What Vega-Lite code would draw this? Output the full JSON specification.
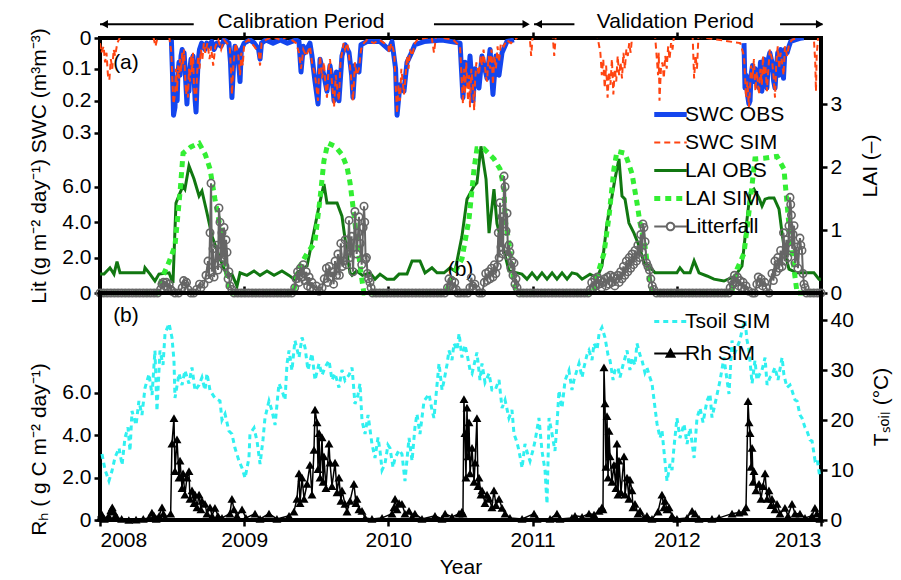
{
"$schema": "https://vega.github.io/schema/vega-lite/v6.json",
"padding": {"left": 26, "top": 9, "right": 2, "bottom": 10},
"config": {
 "font": "Liberation Sans",
 "view": {"stroke": "black", "strokeWidth": 4},
 "axis": {"domain": false, "grid": false, "tickColor": "black", "tickWidth": 2.5, "tickSize": 6, "labelFontSize": 21, "labelColor": "black", "labelFont": "Liberation Sans", "titleFont": "Liberation Sans", "titleFontSize": 21, "titleFontWeight": "normal", "titleColor": "black", "labelPadding": 3},
 "legend": {"labelFontSize": 21, "labelFont": "Liberation Sans", "labelColor": "black", "padding": 0, "rowPadding": 3, "symbolSize": 625, "labelOffset": 4}
},
"resolve": {"scale": {"color": "independent"}},
"datasets": {
 "swcO": [
{"g":1,"t":2008.495,"v":0.01},{"g":1,"t":2008.503,"v":0.12},{"g":1,"t":2008.51,"v":0.245},{"g":1,"t":2008.52,"v":0.22},{"g":1,"t":2008.527,"v":0.14},{"g":1,"t":2008.535,"v":0.2},{"g":1,"t":2008.54,"v":0.12},{"g":1,"t":2008.548,"v":0.08},{"g":1,"t":2008.555,"v":0.12},{"g":1,"t":2008.562,"v":0.06},{"g":1,"t":2008.57,"v":0.04},{"g":1,"t":2008.576,"v":0.07},{"g":1,"t":2008.583,"v":0.05},{"g":1,"t":2008.59,"v":0.1},{"g":1,"t":2008.597,"v":0.16},{"g":1,"t":2008.603,"v":0.21},{"g":1,"t":2008.61,"v":0.14},{"g":1,"t":2008.617,"v":0.17},{"g":1,"t":2008.624,"v":0.1},{"g":1,"t":2008.631,"v":0.07},{"g":1,"t":2008.638,"v":0.09},{"g":1,"t":2008.645,"v":0.06},{"g":1,"t":2008.652,"v":0.12},{"g":1,"t":2008.66,"v":0.2},{"g":1,"t":2008.666,"v":0.235},{"g":1,"t":2008.673,"v":0.15},{"g":1,"t":2008.68,"v":0.08},{"g":1,"t":2008.69,"v":0.04},{"g":1,"t":2008.705,"v":0.02},{"g":1,"t":2008.728,"v":0.04},{"g":1,"t":2008.74,"v":0.02},{"g":1,"t":2008.756,"v":0.03},{"g":1,"t":2008.775,"v":0.015},{"g":1,"t":2008.791,"v":0.04},{"g":1,"t":2008.811,"v":0.02},{"g":1,"t":2008.84,"v":0.03},{"g":1,"t":2008.86,"v":0.01},{"g":1,"t":2008.894,"v":0.02},{"g":1,"t":2008.905,"v":0.08},{"g":1,"t":2008.915,"v":0.19},{"g":1,"t":2008.925,"v":0.1},{"g":1,"t":2008.936,"v":0.03},{"g":1,"t":2008.957,"v":0.05},{"g":1,"t":2008.971,"v":0.14},{"g":1,"t":2008.98,"v":0.04},{"g":1,"t":2009.0,"v":0.02},{"g":1,"t":2009.04,"v":0.01},{"g":1,"t":2009.07,"v":0.02},{"g":1,"t":2009.1,"v":0.04},{"g":1,"t":2009.11,"v":0.07},{"g":1,"t":2009.12,"v":0.02},{"g":1,"t":2009.15,"v":0.01},{"g":1,"t":2009.2,"v":0.02},{"g":1,"t":2009.25,"v":0.01},{"g":1,"t":2009.3,"v":0.02},{"g":1,"t":2009.36,"v":0.01},{"g":1,"t":2009.38,"v":0.015},{"g":1,"t":2009.394,"v":0.11},{"g":1,"t":2009.41,"v":0.03},{"g":1,"t":2009.422,"v":0.05},{"g":1,"t":2009.456,"v":0.02},{"g":1,"t":2009.47,"v":0.06},{"g":1,"t":2009.491,"v":0.14},{"g":1,"t":2009.512,"v":0.21},{"g":1,"t":2009.526,"v":0.07},{"g":1,"t":2009.54,"v":0.1},{"g":1,"t":2009.553,"v":0.12},{"g":1,"t":2009.574,"v":0.17},{"g":1,"t":2009.595,"v":0.09},{"g":1,"t":2009.612,"v":0.14},{"g":1,"t":2009.623,"v":0.2},{"g":1,"t":2009.64,"v":0.11},{"g":1,"t":2009.657,"v":0.2},{"g":1,"t":2009.678,"v":0.06},{"g":1,"t":2009.699,"v":0.025},{"g":1,"t":2009.727,"v":0.05},{"g":1,"t":2009.745,"v":0.12},{"g":1,"t":2009.754,"v":0.19},{"g":1,"t":2009.768,"v":0.09},{"g":1,"t":2009.796,"v":0.11},{"g":1,"t":2009.81,"v":0.025},{"g":1,"t":2009.852,"v":0.015},{"g":1,"t":2009.942,"v":0.015},{"g":1,"t":2010.004,"v":0.04},{"g":1,"t":2010.025,"v":0.015},{"g":1,"t":2010.05,"v":0.1},{"g":1,"t":2010.06,"v":0.245},{"g":1,"t":2010.08,"v":0.15},{"g":1,"t":2010.108,"v":0.17},{"g":1,"t":2010.129,"v":0.08},{"g":1,"t":2010.15,"v":0.06},{"g":1,"t":2010.184,"v":0.025},{"g":1,"t":2010.247,"v":0.015},{"g":1,"t":2010.372,"v":0.01},{"g":1,"t":2010.497,"v":0.02},{"g":1,"t":2010.517,"v":0.19},{"g":1,"t":2010.531,"v":0.08},{"g":1,"t":2010.552,"v":0.15},{"g":1,"t":2010.566,"v":0.06},{"g":1,"t":2010.587,"v":0.2},{"g":1,"t":2010.601,"v":0.1},{"g":1,"t":2010.628,"v":0.16},{"g":1,"t":2010.649,"v":0.06},{"g":1,"t":2010.684,"v":0.13},{"g":1,"t":2010.705,"v":0.04},{"g":1,"t":2010.725,"v":0.18},{"g":1,"t":2010.746,"v":0.06},{"g":1,"t":2010.767,"v":0.12},{"g":1,"t":2010.788,"v":0.05},{"g":1,"t":2010.822,"v":0.015},{"g":1,"t":2010.871,"v":0.01},
{"g":2,"t":2012.466,"v":0.02},{"g":2,"t":2012.473,"v":0.16},{"g":2,"t":2012.48,"v":0.12},{"g":2,"t":2012.49,"v":0.18},{"g":2,"t":2012.5,"v":0.21},{"g":2,"t":2012.508,"v":0.2},{"g":2,"t":2012.515,"v":0.12},{"g":2,"t":2012.525,"v":0.09},{"g":2,"t":2012.535,"v":0.14},{"g":2,"t":2012.545,"v":0.1},{"g":2,"t":2012.555,"v":0.15},{"g":2,"t":2012.57,"v":0.16},{"g":2,"t":2012.58,"v":0.08},{"g":2,"t":2012.59,"v":0.17},{"g":2,"t":2012.598,"v":0.1},{"g":2,"t":2012.605,"v":0.07},{"g":2,"t":2012.615,"v":0.12},{"g":2,"t":2012.625,"v":0.16},{"g":2,"t":2012.635,"v":0.07},{"g":2,"t":2012.645,"v":0.05},{"g":2,"t":2012.66,"v":0.08},{"g":2,"t":2012.672,"v":0.14},{"g":2,"t":2012.681,"v":0.16},{"g":2,"t":2012.69,"v":0.1},{"g":2,"t":2012.7,"v":0.05},{"g":2,"t":2012.71,"v":0.12},{"g":2,"t":2012.72,"v":0.04},{"g":2,"t":2012.73,"v":0.06},{"g":2,"t":2012.74,"v":0.13},{"g":2,"t":2012.75,"v":0.04},{"g":2,"t":2012.765,"v":0.05},{"g":2,"t":2012.778,"v":0.03},{"g":2,"t":2012.79,"v":0.015},{"g":2,"t":2012.82,"v":0.01},{"g":2,"t":2012.854,"v":0.005},{"g":2,"t":2012.88,"v":0.003}
 ],
 "swcS": [
{"t":2008.0,"v":0.02},{"t":2008.01,"v":0.05},{"t":2008.025,"v":0.03},{"t":2008.035,"v":0.08},{"t":2008.045,"v":0.05},{"t":2008.055,"v":0.12},{"t":2008.065,"v":0.135},{"t":2008.075,"v":0.07},{"t":2008.085,"v":0.1},{"t":2008.095,"v":0.04},{"t":2008.105,"v":0.06},{"t":2008.12,"v":0.02},{"t":2008.14,"v":0.0},{"t":2008.37,"v":0.0},{"t":2008.385,"v":0.03},{"t":2008.4,"v":0.0},{"t":2008.48,"v":0.0},{"t":2008.495,"v":0.05},{"t":2008.503,"v":0.15},{"t":2008.51,"v":0.21},{"t":2008.52,"v":0.18},{"t":2008.527,"v":0.1},{"t":2008.535,"v":0.17},{"t":2008.54,"v":0.09},{"t":2008.548,"v":0.13},{"t":2008.555,"v":0.07},{"t":2008.562,"v":0.11},{"t":2008.57,"v":0.05},{"t":2008.576,"v":0.09},{"t":2008.583,"v":0.04},{"t":2008.59,"v":0.12},{"t":2008.597,"v":0.18},{"t":2008.603,"v":0.15},{"t":2008.61,"v":0.19},{"t":2008.617,"v":0.1},{"t":2008.624,"v":0.14},{"t":2008.631,"v":0.06},{"t":2008.638,"v":0.11},{"t":2008.645,"v":0.05},{"t":2008.652,"v":0.16},{"t":2008.66,"v":0.19},{"t":2008.666,"v":0.2},{"t":2008.673,"v":0.12},{"t":2008.68,"v":0.06},{"t":2008.69,"v":0.1},{"t":2008.7,"v":0.04},{"t":2008.71,"v":0.07},{"t":2008.72,"v":0.02},{"t":2008.73,"v":0.05},{"t":2008.745,"v":0.02},{"t":2008.76,"v":0.07},{"t":2008.77,"v":0.03},{"t":2008.785,"v":0.09},{"t":2008.8,"v":0.03},{"t":2008.82,"v":0.01},{"t":2008.84,"v":0.04},{"t":2008.86,"v":0.01},{"t":2008.9,"v":0.03},{"t":2008.91,"v":0.12},{"t":2008.915,"v":0.18},{"t":2008.925,"v":0.09},{"t":2008.94,"v":0.02},{"t":2008.96,"v":0.06},{"t":2008.971,"v":0.12},{"t":2008.98,"v":0.05},{"t":2008.99,"v":0.09},{"t":2009.0,"v":0.02},{"t":2009.03,"v":0.01},{"t":2009.07,"v":0.03},{"t":2009.1,"v":0.05},{"t":2009.11,"v":0.09},{"t":2009.12,"v":0.02},{"t":2009.15,"v":0.01},{"t":2009.2,"v":0.0},{"t":2009.25,"v":0.01},{"t":2009.3,"v":0.0},{"t":2009.36,"v":0.02},{"t":2009.38,"v":0.05},{"t":2009.394,"v":0.1},{"t":2009.41,"v":0.04},{"t":2009.43,"v":0.06},{"t":2009.456,"v":0.03},{"t":2009.47,"v":0.08},{"t":2009.491,"v":0.12},{"t":2009.512,"v":0.2},{"t":2009.52,"v":0.1},{"t":2009.526,"v":0.06},{"t":2009.54,"v":0.13},{"t":2009.553,"v":0.08},{"t":2009.565,"v":0.16},{"t":2009.574,"v":0.19},{"t":2009.585,"v":0.1},{"t":2009.595,"v":0.07},{"t":2009.61,"v":0.15},{"t":2009.623,"v":0.22},{"t":2009.635,"v":0.12},{"t":2009.65,"v":0.18},{"t":2009.657,"v":0.2},{"t":2009.668,"v":0.08},{"t":2009.678,"v":0.05},{"t":2009.69,"v":0.02},{"t":2009.7,"v":0.04},{"t":2009.715,"v":0.02},{"t":2009.727,"v":0.06},{"t":2009.74,"v":0.12},{"t":2009.754,"v":0.2},{"t":2009.76,"v":0.15},{"t":2009.768,"v":0.08},{"t":2009.78,"v":0.12},{"t":2009.796,"v":0.1},{"t":2009.81,"v":0.04},{"t":2009.83,"v":0.02},{"t":2009.852,"v":0.01},{"t":2009.9,"v":0.02},{"t":2009.94,"v":0.01},{"t":2010.0,"v":0.03},{"t":2010.004,"v":0.05},{"t":2010.02,"v":0.02},{"t":2010.04,"v":0.05},{"t":2010.06,"v":0.24},{"t":2010.07,"v":0.15},{"t":2010.08,"v":0.2},{"t":2010.09,"v":0.1},{"t":2010.108,"v":0.18},{"t":2010.12,"v":0.12},{"t":2010.129,"v":0.06},{"t":2010.14,"v":0.1},{"t":2010.15,"v":0.04},{"t":2010.165,"v":0.06},{"t":2010.184,"v":0.02},{"t":2010.2,"v":0.01},{"t":2010.3,"v":0.0},{"t":2010.316,"v":0.05},{"t":2010.33,"v":0.0},{"t":2010.45,"v":0.01},{"t":2010.497,"v":0.03},{"t":2010.51,"v":0.15},{"t":2010.517,"v":0.21},{"t":2010.525,"v":0.1},{"t":2010.531,"v":0.18},{"t":2010.54,"v":0.08},{"t":2010.552,"v":0.2},{"t":2010.56,"v":0.12},{"t":2010.566,"v":0.22},{"t":2010.575,"v":0.1},{"t":2010.587,"v":0.16},{"t":2010.595,"v":0.23},{"t":2010.601,"v":0.14},{"t":2010.61,"v":0.08},{"t":2010.628,"v":0.12},{"t":2010.64,"v":0.06},{"t":2010.649,"v":0.09},{"t":2010.66,"v":0.04},{"t":2010.675,"v":0.12},{"t":2010.684,"v":0.14},{"t":2010.695,"v":0.06},{"t":2010.705,"v":0.1},{"t":2010.715,"v":0.04},{"t":2010.725,"v":0.15},{"t":2010.735,"v":0.06},{"t":2010.746,"v":0.1},{"t":2010.757,"v":0.03},{"t":2010.767,"v":0.08},{"t":2010.78,"v":0.02},{"t":2010.8,"v":0.03},{"t":2010.82,"v":0.01},{"t":2010.85,"v":0.02},{"t":2010.9,"v":0.0},{"t":2010.98,"v":0.0},{"t":2010.99,"v":0.06},{"t":2011.0,"v":0.0},{"t":2011.14,"v":0.0},{"t":2011.15,"v":0.06},{"t":2011.16,"v":0.0},{"t":2011.45,"v":0.0},{"t":2011.47,"v":0.05},{"t":2011.48,"v":0.12},{"t":2011.49,"v":0.07},{"t":2011.5,"v":0.16},{"t":2011.51,"v":0.09},{"t":2011.52,"v":0.19},{"t":2011.53,"v":0.11},{"t":2011.54,"v":0.15},{"t":2011.55,"v":0.07},{"t":2011.56,"v":0.18},{"t":2011.57,"v":0.1},{"t":2011.58,"v":0.14},{"t":2011.59,"v":0.06},{"t":2011.6,"v":0.12},{"t":2011.61,"v":0.08},{"t":2011.62,"v":0.13},{"t":2011.63,"v":0.05},{"t":2011.64,"v":0.1},{"t":2011.65,"v":0.04},{"t":2011.66,"v":0.06},{"t":2011.67,"v":0.02},{"t":2011.68,"v":0.05},{"t":2011.69,"v":0.0},{"t":2011.85,"v":0.0},{"t":2011.86,"v":0.06},{"t":2011.87,"v":0.12},{"t":2011.875,"v":0.05},{"t":2011.88,"v":0.2},{"t":2011.89,"v":0.1},{"t":2011.9,"v":0.08},{"t":2011.91,"v":0.13},{"t":2011.92,"v":0.06},{"t":2011.93,"v":0.1},{"t":2011.94,"v":0.03},{"t":2011.95,"v":0.07},{"t":2011.96,"v":0.02},{"t":2011.97,"v":0.04},{"t":2011.98,"v":0.0},{"t":2012.11,"v":0.0},{"t":2012.12,"v":0.13},{"t":2012.13,"v":0.06},{"t":2012.14,"v":0.1},{"t":2012.15,"v":0.0},{"t":2012.44,"v":0.02},{"t":2012.466,"v":0.06},{"t":2012.473,"v":0.12},{"t":2012.48,"v":0.19},{"t":2012.49,"v":0.14},{"t":2012.5,"v":0.22},{"t":2012.508,"v":0.16},{"t":2012.515,"v":0.09},{"t":2012.525,"v":0.13},{"t":2012.535,"v":0.07},{"t":2012.545,"v":0.17},{"t":2012.555,"v":0.11},{"t":2012.57,"v":0.18},{"t":2012.58,"v":0.1},{"t":2012.59,"v":0.15},{"t":2012.598,"v":0.06},{"t":2012.605,"v":0.12},{"t":2012.615,"v":0.09},{"t":2012.625,"v":0.17},{"t":2012.635,"v":0.1},{"t":2012.645,"v":0.04},{"t":2012.66,"v":0.07},{"t":2012.672,"v":0.13},{"t":2012.681,"v":0.19},{"t":2012.69,"v":0.08},{"t":2012.7,"v":0.03},{"t":2012.71,"v":0.1},{"t":2012.72,"v":0.05},{"t":2012.73,"v":0.08},{"t":2012.74,"v":0.12},{"t":2012.75,"v":0.03},{"t":2012.765,"v":0.06},{"t":2012.78,"v":0.02},{"t":2012.8,"v":0.01},{"t":2012.85,"v":0.0},{"t":2012.95,"v":0.0},{"t":2012.96,"v":0.08},{"t":2012.965,"v":0.17},{"t":2012.97,"v":0.06},{"t":2012.98,"v":0.0},{"t":2013.0,"v":0.0}
 ],
 "laiO": [
{"t":2008.0,"v":0.3},{"t":2008.028,"v":0.3},{"t":2008.069,"v":0.4},{"t":2008.097,"v":0.3},{"t":2008.118,"v":0.5},{"t":2008.139,"v":0.32},{"t":2008.2,"v":0.32},{"t":2008.305,"v":0.32},{"t":2008.312,"v":0.4},{"t":2008.347,"v":0.3},{"t":2008.381,"v":0.19},{"t":2008.409,"v":0.3},{"t":2008.479,"v":0.32},{"t":2008.506,"v":0.16},{"t":2008.527,"v":1.43},{"t":2008.555,"v":1.59},{"t":2008.576,"v":1.7},{"t":2008.589,"v":1.65},{"t":2008.617,"v":2.02},{"t":2008.652,"v":1.81},{"t":2008.687,"v":1.54},{"t":2008.707,"v":1.62},{"t":2008.742,"v":1.27},{"t":2008.777,"v":0.9},{"t":2008.825,"v":0.59},{"t":2008.881,"v":0.27},{"t":2008.915,"v":0.3},{"t":2008.95,"v":0.11},{"t":2008.971,"v":0.32},{"t":2009.019,"v":0.28},{"t":2009.068,"v":0.35},{"t":2009.11,"v":0.28},{"t":2009.158,"v":0.35},{"t":2009.207,"v":0.28},{"t":2009.262,"v":0.35},{"t":2009.311,"v":0.28},{"t":2009.345,"v":0.22},{"t":2009.366,"v":0.32},{"t":2009.436,"v":0.43},{"t":2009.491,"v":1.06},{"t":2009.519,"v":1.38},{"t":2009.553,"v":1.73},{"t":2009.574,"v":1.43},{"t":2009.644,"v":1.43},{"t":2009.678,"v":1.22},{"t":2009.713,"v":0.63},{"t":2009.734,"v":0.32},{"t":2009.748,"v":0.28},{"t":2009.78,"v":0.35},{"t":2009.82,"v":0.28},{"t":2009.872,"v":0.32},{"t":2009.907,"v":0.22},{"t":2009.942,"v":0.3},{"t":2009.99,"v":0.22},{"t":2010.039,"v":0.22},{"t":2010.074,"v":0.3},{"t":2010.129,"v":0.3},{"t":2010.164,"v":0.51},{"t":2010.219,"v":0.51},{"t":2010.254,"v":0.32},{"t":2010.302,"v":0.4},{"t":2010.337,"v":0.32},{"t":2010.386,"v":0.32},{"t":2010.427,"v":0.4},{"t":2010.462,"v":0.35},{"t":2010.51,"v":0.9},{"t":2010.545,"v":1.49},{"t":2010.594,"v":1.7},{"t":2010.614,"v":1.75},{"t":2010.642,"v":2.33},{"t":2010.677,"v":1.81},{"t":2010.698,"v":0.95},{"t":2010.732,"v":1.65},{"t":2010.753,"v":1.1},{"t":2010.788,"v":0.8},{"t":2010.836,"v":0.35},{"t":2010.892,"v":0.32},{"t":2010.926,"v":0.3},{"t":2010.961,"v":0.22},{"t":2010.996,"v":0.32},{"t":2011.031,"v":0.22},{"t":2011.065,"v":0.32},{"t":2011.1,"v":0.22},{"t":2011.135,"v":0.32},{"t":2011.169,"v":0.22},{"t":2011.204,"v":0.32},{"t":2011.239,"v":0.22},{"t":2011.273,"v":0.32},{"t":2011.308,"v":0.3},{"t":2011.343,"v":0.22},{"t":2011.398,"v":0.3},{"t":2011.447,"v":0.24},{"t":2011.481,"v":0.43},{"t":2011.516,"v":1.11},{"t":2011.551,"v":1.54},{"t":2011.571,"v":1.81},{"t":2011.599,"v":2.13},{"t":2011.62,"v":1.54},{"t":2011.641,"v":1.49},{"t":2011.668,"v":1.11},{"t":2011.703,"v":0.95},{"t":2011.738,"v":0.75},{"t":2011.773,"v":0.48},{"t":2011.807,"v":0.43},{"t":2011.849,"v":0.32},{"t":2012.001,"v":0.32},{"t":2012.022,"v":0.4},{"t":2012.05,"v":0.32},{"t":2012.092,"v":0.32},{"t":2012.12,"v":0.51},{"t":2012.154,"v":0.32},{"t":2012.209,"v":0.27},{"t":2012.258,"v":0.22},{"t":2012.327,"v":0.19},{"t":2012.404,"v":0.27},{"t":2012.452,"v":0.43},{"t":2012.487,"v":1.17},{"t":2012.508,"v":1.59},{"t":2012.535,"v":1.65},{"t":2012.57,"v":1.51},{"t":2012.591,"v":1.38},{"t":2012.612,"v":1.49},{"t":2012.639,"v":1.51},{"t":2012.674,"v":1.51},{"t":2012.709,"v":1.33},{"t":2012.73,"v":0.95},{"t":2012.75,"v":0.63},{"t":2012.778,"v":0.38},{"t":2012.834,"v":0.32},{"t":2012.903,"v":0.32},{"t":2012.951,"v":0.32},{"t":2012.986,"v":0.22},{"t":2013.0,"v":0.22}
 ],
 "laiS": [
{"t":2008.0,"v":0},{"t":2008.4,"v":0},{"t":2008.43,"v":0.24},{"t":2008.48,"v":0.5},{"t":2008.52,"v":0.75},{"t":2008.555,"v":1.6},{"t":2008.576,"v":2.22},{"t":2008.63,"v":2.32},{"t":2008.687,"v":2.38},{"t":2008.73,"v":2.2},{"t":2008.763,"v":1.97},{"t":2008.797,"v":1.49},{"t":2008.846,"v":0.9},{"t":2008.881,"v":0.27},{"t":2008.9,"v":0},{"t":2009.34,"v":0},{"t":2009.38,"v":0.4},{"t":2009.436,"v":0.63},{"t":2009.49,"v":0.8},{"t":2009.526,"v":1.5},{"t":2009.553,"v":2.1},{"t":2009.58,"v":2.38},{"t":2009.63,"v":2.33},{"t":2009.678,"v":2.2},{"t":2009.713,"v":2.0},{"t":2009.734,"v":1.75},{"t":2009.761,"v":1.25},{"t":2009.789,"v":0.7},{"t":2009.817,"v":0.2},{"t":2009.83,"v":0},{"t":2010.4,"v":0},{"t":2010.42,"v":0.16},{"t":2010.51,"v":0.54},{"t":2010.559,"v":1.17},{"t":2010.594,"v":1.97},{"t":2010.614,"v":2.29},{"t":2010.663,"v":2.29},{"t":2010.732,"v":2.13},{"t":2010.774,"v":1.97},{"t":2010.802,"v":1.65},{"t":2010.809,"v":1.17},{"t":2010.836,"v":0.8},{"t":2010.871,"v":0.16},{"t":2010.89,"v":0},{"t":2011.42,"v":0},{"t":2011.447,"v":0.27},{"t":2011.495,"v":0.63},{"t":2011.53,"v":1.22},{"t":2011.564,"v":1.97},{"t":2011.585,"v":2.25},{"t":2011.641,"v":2.22},{"t":2011.689,"v":1.9},{"t":2011.724,"v":1.43},{"t":2011.745,"v":1.11},{"t":2011.779,"v":0.75},{"t":2011.807,"v":0.27},{"t":2011.83,"v":0},{"t":2012.38,"v":0},{"t":2012.418,"v":0.38},{"t":2012.466,"v":0.63},{"t":2012.508,"v":1.43},{"t":2012.542,"v":2.13},{"t":2012.605,"v":2.14},{"t":2012.695,"v":2.17},{"t":2012.743,"v":1.97},{"t":2012.764,"v":1.43},{"t":2012.785,"v":0.9},{"t":2012.813,"v":0.38},{"t":2012.834,"v":0},{"t":2013.0,"v":0}
 ],
 "lit": [
{"t":2008.0,"v":0},{"t":2008.025,"v":0},{"t":2008.05,"v":0},{"t":2008.075,"v":0},{"t":2008.1,"v":0},{"t":2008.125,"v":0},{"t":2008.15,"v":0},{"t":2008.175,"v":0},{"t":2008.2,"v":0},{"t":2008.225,"v":0},{"t":2008.25,"v":0},{"t":2008.275,"v":0},{"t":2008.3,"v":0},{"t":2008.325,"v":0},{"t":2008.35,"v":0},{"t":2008.375,"v":0},{"t":2008.4,"v":0},{"t":2008.42,"v":0.2},{"t":2008.43,"v":0.5},{"t":2008.44,"v":0.6},{"t":2008.45,"v":0.4},{"t":2008.46,"v":0.6},{"t":2008.47,"v":0.3},{"t":2008.48,"v":0.5},{"t":2008.49,"v":0.2},{"t":2008.5,"v":0.1},{"t":2008.52,"v":0},{"t":2008.545,"v":0},{"t":2008.57,"v":0.3},{"t":2008.58,"v":0.7},{"t":2008.59,"v":0.5},{"t":2008.6,"v":0.6},{"t":2008.61,"v":0.2},{"t":2008.63,"v":0},{"t":2008.65,"v":0},{"t":2008.67,"v":0.2},{"t":2008.69,"v":0.5},{"t":2008.7,"v":0.3},{"t":2008.721,"v":0.5},{"t":2008.735,"v":1.0},{"t":2008.749,"v":1.8},{"t":2008.756,"v":0.8},{"t":2008.763,"v":3.4},{"t":2008.77,"v":6.2},{"t":2008.777,"v":1.2},{"t":2008.784,"v":2.5},{"t":2008.791,"v":0.9},{"t":2008.797,"v":1.6},{"t":2008.811,"v":2.7},{"t":2008.818,"v":1.3},{"t":2008.825,"v":4.8},{"t":2008.832,"v":4.0},{"t":2008.839,"v":1.8},{"t":2008.846,"v":3.4},{"t":2008.853,"v":2.0},{"t":2008.86,"v":3.7},{"t":2008.867,"v":1.5},{"t":2008.874,"v":3.0},{"t":2008.881,"v":2.3},{"t":2008.888,"v":0.8},{"t":2008.894,"v":1.2},{"t":2008.901,"v":0.4},{"t":2008.915,"v":0.2},{"t":2008.93,"v":0},{"t":2008.955,"v":0},{"t":2008.98,"v":0},{"t":2009.005,"v":0},{"t":2009.03,"v":0},{"t":2009.055,"v":0},{"t":2009.08,"v":0},{"t":2009.105,"v":0},{"t":2009.13,"v":0},{"t":2009.155,"v":0},{"t":2009.18,"v":0},{"t":2009.205,"v":0},{"t":2009.23,"v":0},{"t":2009.255,"v":0},{"t":2009.28,"v":0},{"t":2009.305,"v":0},{"t":2009.33,"v":0},{"t":2009.35,"v":0.3},{"t":2009.36,"v":0.8},{"t":2009.37,"v":1.2},{"t":2009.38,"v":0.6},{"t":2009.39,"v":1.4},{"t":2009.4,"v":0.9},{"t":2009.41,"v":1.6},{"t":2009.42,"v":0.7},{"t":2009.43,"v":1.2},{"t":2009.44,"v":0.4},{"t":2009.45,"v":0.9},{"t":2009.46,"v":0.3},{"t":2009.47,"v":0.6},{"t":2009.48,"v":0.2},{"t":2009.5,"v":0.4},{"t":2009.52,"v":0.1},{"t":2009.54,"v":0.3},{"t":2009.555,"v":0.8},{"t":2009.57,"v":1.4},{"t":2009.58,"v":0.6},{"t":2009.59,"v":1.5},{"t":2009.6,"v":0.9},{"t":2009.61,"v":1.2},{"t":2009.62,"v":0.5},{"t":2009.63,"v":1.8},{"t":2009.64,"v":1.0},{"t":2009.65,"v":2.2},{"t":2009.66,"v":1.0},{"t":2009.67,"v":2.8},{"t":2009.68,"v":1.5},{"t":2009.69,"v":1.8},{"t":2009.7,"v":3.0},{"t":2009.71,"v":1.6},{"t":2009.72,"v":2.6},{"t":2009.727,"v":4.1},{"t":2009.735,"v":2.0},{"t":2009.745,"v":3.2},{"t":2009.755,"v":1.2},{"t":2009.768,"v":4.6},{"t":2009.78,"v":2.2},{"t":2009.79,"v":3.4},{"t":2009.796,"v":4.3},{"t":2009.805,"v":2.8},{"t":2009.815,"v":1.6},{"t":2009.825,"v":3.7},{"t":2009.831,"v":4.9},{"t":2009.836,"v":4.0},{"t":2009.842,"v":1.9},{"t":2009.848,"v":2.0},{"t":2009.855,"v":1.1},{"t":2009.862,"v":0.8},{"t":2009.872,"v":0.6},{"t":2009.88,"v":0.3},{"t":2009.89,"v":0},{"t":2009.915,"v":0},{"t":2009.94,"v":0},{"t":2009.965,"v":0},{"t":2009.99,"v":0},{"t":2010.015,"v":0},{"t":2010.04,"v":0},{"t":2010.065,"v":0},{"t":2010.09,"v":0},{"t":2010.115,"v":0},{"t":2010.14,"v":0},{"t":2010.165,"v":0},{"t":2010.19,"v":0},{"t":2010.215,"v":0},{"t":2010.24,"v":0},{"t":2010.265,"v":0},{"t":2010.29,"v":0},{"t":2010.315,"v":0},{"t":2010.34,"v":0},{"t":2010.365,"v":0},{"t":2010.39,"v":0},{"t":2010.41,"v":0.3},{"t":2010.42,"v":0.8},{"t":2010.43,"v":0.4},{"t":2010.44,"v":0.7},{"t":2010.45,"v":0.3},{"t":2010.46,"v":0.6},{"t":2010.47,"v":0.2},{"t":2010.48,"v":0},{"t":2010.5,"v":0},{"t":2010.525,"v":0},{"t":2010.55,"v":0},{"t":2010.565,"v":0.3},{"t":2010.575,"v":0.86},{"t":2010.585,"v":0.4},{"t":2010.6,"v":0.5},{"t":2010.61,"v":0.2},{"t":2010.63,"v":0},{"t":2010.65,"v":0},{"t":2010.665,"v":0.6},{"t":2010.675,"v":1.1},{"t":2010.685,"v":0.7},{"t":2010.695,"v":1.2},{"t":2010.705,"v":0.8},{"t":2010.715,"v":1.4},{"t":2010.725,"v":0.9},{"t":2010.735,"v":1.6},{"t":2010.745,"v":1.1},{"t":2010.755,"v":1.5},{"t":2010.762,"v":3.4},{"t":2010.768,"v":2.0},{"t":2010.774,"v":5.1},{"t":2010.781,"v":2.6},{"t":2010.788,"v":4.3},{"t":2010.795,"v":2.2},{"t":2010.802,"v":6.6},{"t":2010.809,"v":6.0},{"t":2010.816,"v":3.5},{"t":2010.823,"v":4.5},{"t":2010.829,"v":2.1},{"t":2010.836,"v":2.7},{"t":2010.843,"v":2.3},{"t":2010.85,"v":1.4},{"t":2010.857,"v":1.8},{"t":2010.864,"v":1.0},{"t":2010.871,"v":1.7},{"t":2010.878,"v":0.5},{"t":2010.885,"v":0.8},{"t":2010.892,"v":0.3},{"t":2010.91,"v":0},{"t":2010.935,"v":0},{"t":2010.96,"v":0},{"t":2010.985,"v":0},{"t":2011.01,"v":0},{"t":2011.035,"v":0},{"t":2011.06,"v":0},{"t":2011.085,"v":0},{"t":2011.11,"v":0},{"t":2011.135,"v":0},{"t":2011.16,"v":0},{"t":2011.185,"v":0},{"t":2011.21,"v":0},{"t":2011.235,"v":0},{"t":2011.26,"v":0},{"t":2011.285,"v":0},{"t":2011.31,"v":0},{"t":2011.335,"v":0},{"t":2011.36,"v":0},{"t":2011.385,"v":0},{"t":2011.4,"v":0.2},{"t":2011.41,"v":0.6},{"t":2011.42,"v":0.3},{"t":2011.43,"v":0.8},{"t":2011.44,"v":0.4},{"t":2011.45,"v":0.9},{"t":2011.46,"v":0.5},{"t":2011.47,"v":0.7},{"t":2011.48,"v":0.3},{"t":2011.49,"v":0.6},{"t":2011.5,"v":0.8},{"t":2011.51,"v":0.4},{"t":2011.52,"v":0.9},{"t":2011.53,"v":0.5},{"t":2011.54,"v":1.0},{"t":2011.55,"v":0.6},{"t":2011.56,"v":0.9},{"t":2011.57,"v":0.4},{"t":2011.58,"v":0.8},{"t":2011.59,"v":1.0},{"t":2011.6,"v":0.6},{"t":2011.61,"v":1.2},{"t":2011.62,"v":0.8},{"t":2011.63,"v":1.5},{"t":2011.64,"v":1.0},{"t":2011.65,"v":1.8},{"t":2011.66,"v":1.2},{"t":2011.67,"v":2.0},{"t":2011.68,"v":1.4},{"t":2011.69,"v":2.2},{"t":2011.7,"v":1.6},{"t":2011.71,"v":2.4},{"t":2011.72,"v":1.8},{"t":2011.73,"v":2.7},{"t":2011.74,"v":2.0},{"t":2011.75,"v":3.3},{"t":2011.76,"v":2.3},{"t":2011.765,"v":3.9},{"t":2011.772,"v":3.7},{"t":2011.78,"v":2.9},{"t":2011.79,"v":1.7},{"t":2011.8,"v":1.5},{"t":2011.81,"v":1.3},{"t":2011.82,"v":0.8},{"t":2011.83,"v":0.4},{"t":2011.84,"v":0.2},{"t":2011.86,"v":0},{"t":2011.885,"v":0},{"t":2011.91,"v":0},{"t":2011.935,"v":0},{"t":2011.96,"v":0},{"t":2011.985,"v":0},{"t":2012.01,"v":0},{"t":2012.035,"v":0},{"t":2012.06,"v":0},{"t":2012.085,"v":0},{"t":2012.11,"v":0},{"t":2012.135,"v":0},{"t":2012.16,"v":0},{"t":2012.185,"v":0},{"t":2012.21,"v":0},{"t":2012.235,"v":0},{"t":2012.26,"v":0},{"t":2012.285,"v":0},{"t":2012.31,"v":0},{"t":2012.335,"v":0},{"t":2012.36,"v":0},{"t":2012.37,"v":0.3},{"t":2012.38,"v":0.7},{"t":2012.39,"v":0.5},{"t":2012.4,"v":1.0},{"t":2012.41,"v":0.6},{"t":2012.42,"v":0.9},{"t":2012.43,"v":0.4},{"t":2012.44,"v":0.7},{"t":2012.45,"v":0.3},{"t":2012.46,"v":0.6},{"t":2012.47,"v":0.2},{"t":2012.48,"v":0.4},{"t":2012.5,"v":0.1},{"t":2012.525,"v":0},{"t":2012.54,"v":0},{"t":2012.555,"v":0.5},{"t":2012.565,"v":0.9},{"t":2012.575,"v":0.6},{"t":2012.585,"v":0.8},{"t":2012.595,"v":0.4},{"t":2012.61,"v":0.6},{"t":2012.62,"v":0.3},{"t":2012.64,"v":0},{"t":2012.66,"v":1.1},{"t":2012.67,"v":0.7},{"t":2012.68,"v":1.8},{"t":2012.69,"v":1.2},{"t":2012.7,"v":2.0},{"t":2012.71,"v":1.4},{"t":2012.72,"v":2.4},{"t":2012.73,"v":1.5},{"t":2012.74,"v":3.4},{"t":2012.75,"v":1.8},{"t":2012.76,"v":3.0},{"t":2012.77,"v":2.0},{"t":2012.778,"v":3.8},{"t":2012.785,"v":5.4},{"t":2012.79,"v":5.0},{"t":2012.795,"v":4.4},{"t":2012.8,"v":2.5},{"t":2012.807,"v":3.3},{"t":2012.813,"v":3.8},{"t":2012.82,"v":1.7},{"t":2012.83,"v":2.6},{"t":2012.84,"v":1.4},{"t":2012.854,"v":3.1},{"t":2012.86,"v":2.7},{"t":2012.868,"v":2.4},{"t":2012.875,"v":1.1},{"t":2012.882,"v":0.5},{"t":2012.89,"v":0.3},{"t":2012.9,"v":0},{"t":2012.925,"v":0},{"t":2012.95,"v":0},{"t":2012.975,"v":0},{"t":2013.0,"v":0}
 ],
 "ts": [
{"t":2008.014,"v":13.2},{"t":2008.035,"v":10.0},{"t":2008.062,"v":7.8},{"t":2008.083,"v":9.8},{"t":2008.104,"v":12.5},{"t":2008.132,"v":14.4},{"t":2008.153,"v":11.0},{"t":2008.173,"v":16.4},{"t":2008.194,"v":18.5},{"t":2008.208,"v":13.8},{"t":2008.222,"v":21.8},{"t":2008.25,"v":19.0},{"t":2008.27,"v":23.8},{"t":2008.291,"v":21.0},{"t":2008.312,"v":26.4},{"t":2008.34,"v":29.2},{"t":2008.361,"v":25.0},{"t":2008.381,"v":33.9},{"t":2008.395,"v":21.8},{"t":2008.416,"v":33.9},{"t":2008.437,"v":31.0},{"t":2008.451,"v":37.3},{"t":2008.479,"v":39.3},{"t":2008.499,"v":36.5},{"t":2008.513,"v":31.9},{"t":2008.52,"v":24.4},{"t":2008.548,"v":29.3},{"t":2008.569,"v":27.0},{"t":2008.589,"v":29.9},{"t":2008.617,"v":27.3},{"t":2008.638,"v":30.5},{"t":2008.659,"v":25.9},{"t":2008.687,"v":27.0},{"t":2008.707,"v":28.5},{"t":2008.728,"v":26.0},{"t":2008.742,"v":29.3},{"t":2008.763,"v":25.9},{"t":2008.797,"v":24.4},{"t":2008.832,"v":23.8},{"t":2008.846,"v":20.0},{"t":2008.867,"v":21.2},{"t":2008.894,"v":17.8},{"t":2008.915,"v":17.2},{"t":2008.936,"v":14.4},{"t":2008.964,"v":11.8},{"t":2008.985,"v":10.4},{"t":2009.006,"v":8.4},{"t":2009.033,"v":12.4},{"t":2009.04,"v":17.2},{"t":2009.068,"v":18.4},{"t":2009.089,"v":15.8},{"t":2009.11,"v":11.2},{"t":2009.13,"v":16.0},{"t":2009.144,"v":20.4},{"t":2009.172,"v":23.8},{"t":2009.193,"v":21.8},{"t":2009.214,"v":19.0},{"t":2009.241,"v":27.3},{"t":2009.262,"v":25.9},{"t":2009.283,"v":24.0},{"t":2009.297,"v":31.3},{"t":2009.311,"v":33.9},{"t":2009.331,"v":29.9},{"t":2009.352,"v":35.9},{"t":2009.38,"v":32.5},{"t":2009.401,"v":36.5},{"t":2009.422,"v":34.5},{"t":2009.442,"v":30.0},{"t":2009.47,"v":33.3},{"t":2009.491,"v":28.0},{"t":2009.519,"v":31.3},{"t":2009.54,"v":29.0},{"t":2009.56,"v":30.5},{"t":2009.588,"v":31.9},{"t":2009.609,"v":28.0},{"t":2009.63,"v":29.3},{"t":2009.657,"v":26.5},{"t":2009.678,"v":30.0},{"t":2009.699,"v":27.9},{"t":2009.727,"v":29.0},{"t":2009.748,"v":30.5},{"t":2009.768,"v":23.2},{"t":2009.789,"v":25.0},{"t":2009.803,"v":27.3},{"t":2009.817,"v":19.8},{"t":2009.838,"v":17.2},{"t":2009.859,"v":21.0},{"t":2009.886,"v":15.2},{"t":2009.907,"v":12.4},{"t":2009.928,"v":16.5},{"t":2009.942,"v":13.8},{"t":2009.956,"v":10.0},{"t":2009.976,"v":11.2},{"t":2009.997,"v":15.0},{"t":2010.011,"v":14.4},{"t":2010.032,"v":10.5},{"t":2010.046,"v":12.4},{"t":2010.074,"v":14.0},{"t":2010.094,"v":13.2},{"t":2010.115,"v":7.8},{"t":2010.143,"v":16.4},{"t":2010.164,"v":11.8},{"t":2010.184,"v":18.5},{"t":2010.198,"v":21.2},{"t":2010.219,"v":17.2},{"t":2010.247,"v":23.8},{"t":2010.282,"v":25.2},{"t":2010.302,"v":22.0},{"t":2010.316,"v":20.4},{"t":2010.337,"v":27.0},{"t":2010.351,"v":31.3},{"t":2010.372,"v":26.0},{"t":2010.386,"v":27.9},{"t":2010.406,"v":31.0},{"t":2010.42,"v":33.9},{"t":2010.441,"v":32.0},{"t":2010.455,"v":35.3},{"t":2010.476,"v":34.0},{"t":2010.49,"v":37.3},{"t":2010.51,"v":32.5},{"t":2010.531,"v":35.0},{"t":2010.545,"v":33.3},{"t":2010.566,"v":30.0},{"t":2010.58,"v":29.3},{"t":2010.614,"v":33.5},{"t":2010.635,"v":28.0},{"t":2010.649,"v":31.3},{"t":2010.67,"v":27.5},{"t":2010.698,"v":29.3},{"t":2010.718,"v":26.0},{"t":2010.739,"v":25.9},{"t":2010.767,"v":28.0},{"t":2010.788,"v":22.4},{"t":2010.809,"v":24.0},{"t":2010.836,"v":20.4},{"t":2010.857,"v":22.0},{"t":2010.871,"v":17.2},{"t":2010.892,"v":15.5},{"t":2010.906,"v":13.8},{"t":2010.927,"v":10.4},{"t":2010.947,"v":15.2},{"t":2010.968,"v":13.0},{"t":2010.982,"v":11.8},{"t":2011.003,"v":14.0},{"t":2011.017,"v":15.8},{"t":2011.03,"v":18.0},{"t":2011.044,"v":20.4},{"t":2011.065,"v":13.8},{"t":2011.086,"v":10.0},{"t":2011.1,"v":3.2},{"t":2011.114,"v":20.4},{"t":2011.135,"v":17.2},{"t":2011.155,"v":13.8},{"t":2011.169,"v":19.0},{"t":2011.183,"v":25.9},{"t":2011.204,"v":22.4},{"t":2011.225,"v":27.9},{"t":2011.252,"v":29.9},{"t":2011.273,"v":26.0},{"t":2011.287,"v":28.0},{"t":2011.308,"v":30.0},{"t":2011.322,"v":31.3},{"t":2011.343,"v":28.5},{"t":2011.356,"v":30.5},{"t":2011.377,"v":33.0},{"t":2011.391,"v":33.9},{"t":2011.412,"v":32.0},{"t":2011.426,"v":35.3},{"t":2011.447,"v":34.0},{"t":2011.461,"v":37.3},{"t":2011.481,"v":38.5},{"t":2011.502,"v":36.5},{"t":2011.523,"v":33.0},{"t":2011.537,"v":31.9},{"t":2011.558,"v":28.0},{"t":2011.571,"v":29.9},{"t":2011.592,"v":30.5},{"t":2011.606,"v":28.5},{"t":2011.627,"v":31.0},{"t":2011.655,"v":33.9},{"t":2011.675,"v":30.0},{"t":2011.689,"v":32.5},{"t":2011.71,"v":31.0},{"t":2011.724,"v":35.3},{"t":2011.745,"v":33.0},{"t":2011.759,"v":31.9},{"t":2011.779,"v":29.5},{"t":2011.793,"v":30.5},{"t":2011.814,"v":28.5},{"t":2011.828,"v":27.3},{"t":2011.849,"v":22.4},{"t":2011.863,"v":19.2},{"t":2011.884,"v":16.4},{"t":2011.897,"v":18.0},{"t":2011.911,"v":13.8},{"t":2011.932,"v":7.8},{"t":2011.953,"v":11.2},{"t":2011.967,"v":10.0},{"t":2011.98,"v":14.4},{"t":2012.001,"v":20.4},{"t":2012.022,"v":16.4},{"t":2012.05,"v":19.2},{"t":2012.071,"v":15.2},{"t":2012.092,"v":18.4},{"t":2012.12,"v":12.4},{"t":2012.14,"v":20.4},{"t":2012.161,"v":22.4},{"t":2012.182,"v":19.5},{"t":2012.209,"v":23.8},{"t":2012.23,"v":25.2},{"t":2012.244,"v":20.5},{"t":2012.265,"v":23.2},{"t":2012.286,"v":26.0},{"t":2012.3,"v":27.9},{"t":2012.327,"v":32.5},{"t":2012.348,"v":28.0},{"t":2012.362,"v":25.2},{"t":2012.383,"v":35.9},{"t":2012.397,"v":33.0},{"t":2012.418,"v":34.5},{"t":2012.438,"v":36.0},{"t":2012.452,"v":37.9},{"t":2012.473,"v":39.9},{"t":2012.487,"v":36.0},{"t":2012.501,"v":33.9},{"t":2012.522,"v":27.3},{"t":2012.542,"v":31.9},{"t":2012.556,"v":28.0},{"t":2012.577,"v":29.3},{"t":2012.591,"v":30.0},{"t":2012.612,"v":32.5},{"t":2012.626,"v":27.0},{"t":2012.646,"v":28.5},{"t":2012.66,"v":29.0},{"t":2012.681,"v":30.5},{"t":2012.702,"v":28.0},{"t":2012.73,"v":32.5},{"t":2012.743,"v":29.0},{"t":2012.764,"v":26.5},{"t":2012.785,"v":27.0},{"t":2012.799,"v":25.9},{"t":2012.82,"v":24.0},{"t":2012.834,"v":23.8},{"t":2012.854,"v":21.0},{"t":2012.868,"v":20.4},{"t":2012.889,"v":18.5},{"t":2012.903,"v":17.8},{"t":2012.924,"v":16.0},{"t":2012.938,"v":15.8},{"t":2012.958,"v":12.0},{"t":2012.972,"v":12.4},{"t":2012.993,"v":8.4}
 ],
 "rh": [
{"t":2008.0,"v":0.1},{"t":2008.01,"v":0.3},{"t":2008.02,"v":0.1},{"t":2008.03,"v":0.05},{"t":2008.06,"v":0.2},{"t":2008.075,"v":0.45},{"t":2008.085,"v":0.6},{"t":2008.095,"v":0.4},{"t":2008.105,"v":0.2},{"t":2008.12,"v":0.1},{"t":2008.15,"v":0.05},{"t":2008.2,"v":0.0},{"t":2008.25,"v":0.02},{"t":2008.3,"v":0.05},{"t":2008.34,"v":0.1},{"t":2008.36,"v":0.35},{"t":2008.375,"v":0.2},{"t":2008.39,"v":0.05},{"t":2008.41,"v":0.2},{"t":2008.43,"v":0.6},{"t":2008.44,"v":0.3},{"t":2008.45,"v":0.1},{"t":2008.49,"v":0.3},{"t":2008.499,"v":3.6},{"t":2008.513,"v":4.8},{"t":2008.52,"v":2.3},{"t":2008.534,"v":3.8},{"t":2008.548,"v":2.0},{"t":2008.555,"v":2.8},{"t":2008.569,"v":1.5},{"t":2008.576,"v":2.2},{"t":2008.589,"v":1.2},{"t":2008.603,"v":2.0},{"t":2008.617,"v":2.3},{"t":2008.624,"v":1.0},{"t":2008.638,"v":1.4},{"t":2008.652,"v":0.8},{"t":2008.659,"v":1.2},{"t":2008.673,"v":0.6},{"t":2008.687,"v":1.2},{"t":2008.7,"v":0.5},{"t":2008.707,"v":0.9},{"t":2008.728,"v":0.76},{"t":2008.742,"v":0.3},{"t":2008.763,"v":0.6},{"t":2008.777,"v":0.2},{"t":2008.797,"v":0.57},{"t":2008.818,"v":0.2},{"t":2008.846,"v":0.1},{"t":2008.901,"v":0.3},{"t":2008.915,"v":1.0},{"t":2008.929,"v":0.5},{"t":2008.95,"v":0.2},{"t":2008.985,"v":0.5},{"t":2009.012,"v":0.1},{"t":2009.075,"v":0.3},{"t":2009.11,"v":0.05},{"t":2009.172,"v":0.3},{"t":2009.227,"v":0.05},{"t":2009.311,"v":0.2},{"t":2009.345,"v":0.4},{"t":2009.366,"v":1.0},{"t":2009.38,"v":2.2},{"t":2009.387,"v":0.8},{"t":2009.401,"v":2.0},{"t":2009.415,"v":1.0},{"t":2009.436,"v":1.7},{"t":2009.456,"v":2.6},{"t":2009.47,"v":1.2},{"t":2009.484,"v":3.3},{"t":2009.491,"v":5.2},{"t":2009.505,"v":4.6},{"t":2009.512,"v":2.4},{"t":2009.519,"v":4.1},{"t":2009.526,"v":2.0},{"t":2009.54,"v":3.9},{"t":2009.547,"v":1.8},{"t":2009.553,"v":3.0},{"t":2009.567,"v":1.5},{"t":2009.588,"v":3.6},{"t":2009.595,"v":2.7},{"t":2009.609,"v":1.6},{"t":2009.63,"v":2.7},{"t":2009.644,"v":1.3},{"t":2009.657,"v":2.0},{"t":2009.671,"v":0.9},{"t":2009.678,"v":1.4},{"t":2009.699,"v":0.76},{"t":2009.713,"v":0.4},{"t":2009.734,"v":0.9},{"t":2009.761,"v":1.7},{"t":2009.775,"v":0.8},{"t":2009.782,"v":1.0},{"t":2009.796,"v":0.5},{"t":2009.817,"v":0.43},{"t":2009.838,"v":0.1},{"t":2009.886,"v":0.05},{"t":2009.956,"v":0.1},{"t":2010.025,"v":0.3},{"t":2010.039,"v":0.6},{"t":2010.046,"v":1.0},{"t":2010.06,"v":0.5},{"t":2010.074,"v":0.8},{"t":2010.094,"v":0.76},{"t":2010.115,"v":0.3},{"t":2010.143,"v":0.43},{"t":2010.164,"v":0.15},{"t":2010.184,"v":0.3},{"t":2010.233,"v":0.05},{"t":2010.323,"v":0.2},{"t":2010.372,"v":0.05},{"t":2010.393,"v":0.3},{"t":2010.441,"v":0.15},{"t":2010.49,"v":0.3},{"t":2010.51,"v":0.4},{"t":2010.517,"v":0.3},{"t":2010.524,"v":5.7},{"t":2010.531,"v":4.1},{"t":2010.538,"v":2.0},{"t":2010.545,"v":5.3},{"t":2010.552,"v":3.0},{"t":2010.559,"v":4.6},{"t":2010.566,"v":2.2},{"t":2010.58,"v":3.4},{"t":2010.594,"v":1.8},{"t":2010.601,"v":2.7},{"t":2010.614,"v":4.8},{"t":2010.621,"v":1.6},{"t":2010.628,"v":2.0},{"t":2010.642,"v":1.2},{"t":2010.649,"v":1.4},{"t":2010.67,"v":0.8},{"t":2010.684,"v":1.2},{"t":2010.698,"v":1.0},{"t":2010.718,"v":0.6},{"t":2010.732,"v":1.4},{"t":2010.746,"v":0.7},{"t":2010.767,"v":1.0},{"t":2010.788,"v":0.57},{"t":2010.809,"v":0.3},{"t":2010.843,"v":0.1},{"t":2010.927,"v":0.05},{"t":2011.01,"v":0.3},{"t":2011.031,"v":0.05},{"t":2011.121,"v":0.05},{"t":2011.169,"v":0.3},{"t":2011.19,"v":0.05},{"t":2011.273,"v":0.1},{"t":2011.294,"v":0.2},{"t":2011.343,"v":0.15},{"t":2011.391,"v":0.3},{"t":2011.426,"v":0.25},{"t":2011.461,"v":0.43},{"t":2011.481,"v":0.6},{"t":2011.488,"v":0.5},{"t":2011.495,"v":7.2},{"t":2011.502,"v":5.5},{"t":2011.509,"v":2.5},{"t":2011.516,"v":4.9},{"t":2011.523,"v":2.0},{"t":2011.53,"v":4.2},{"t":2011.537,"v":3.0},{"t":2011.551,"v":1.8},{"t":2011.564,"v":2.6},{"t":2011.578,"v":1.5},{"t":2011.585,"v":3.6},{"t":2011.592,"v":1.2},{"t":2011.599,"v":2.8},{"t":2011.613,"v":1.3},{"t":2011.634,"v":3.0},{"t":2011.641,"v":1.2},{"t":2011.655,"v":2.0},{"t":2011.668,"v":1.0},{"t":2011.675,"v":1.9},{"t":2011.689,"v":1.4},{"t":2011.696,"v":0.6},{"t":2011.71,"v":0.76},{"t":2011.731,"v":0.3},{"t":2011.745,"v":0.43},{"t":2011.773,"v":0.1},{"t":2011.793,"v":0.2},{"t":2011.828,"v":0.05},{"t":2011.87,"v":0.4},{"t":2011.897,"v":1.2},{"t":2011.911,"v":0.6},{"t":2011.918,"v":0.9},{"t":2011.932,"v":0.5},{"t":2011.946,"v":0.6},{"t":2011.967,"v":0.2},{"t":2012.001,"v":0.05},{"t":2012.071,"v":0.1},{"t":2012.106,"v":0.43},{"t":2012.127,"v":0.3},{"t":2012.154,"v":0.05},{"t":2012.244,"v":0.05},{"t":2012.293,"v":0.1},{"t":2012.383,"v":0.3},{"t":2012.431,"v":0.35},{"t":2012.466,"v":0.4},{"t":2012.48,"v":0.6},{"t":2012.494,"v":5.6},{"t":2012.501,"v":4.6},{"t":2012.508,"v":4.1},{"t":2012.515,"v":2.5},{"t":2012.522,"v":3.4},{"t":2012.529,"v":1.8},{"t":2012.535,"v":2.3},{"t":2012.549,"v":1.4},{"t":2012.57,"v":1.7},{"t":2012.584,"v":1.0},{"t":2012.598,"v":1.6},{"t":2012.612,"v":2.2},{"t":2012.626,"v":1.0},{"t":2012.639,"v":1.4},{"t":2012.653,"v":0.7},{"t":2012.66,"v":1.0},{"t":2012.681,"v":0.5},{"t":2012.695,"v":0.76},{"t":2012.716,"v":0.3},{"t":2012.75,"v":0.57},{"t":2012.771,"v":0.2},{"t":2012.799,"v":0.76},{"t":2012.82,"v":0.3},{"t":2012.854,"v":0.3},{"t":2012.889,"v":0.1},{"t":2012.938,"v":0.2},{"t":2012.958,"v":0.57},{"t":2012.972,"v":0.3},{"t":2012.993,"v":0.05}
 ],
 "lab": [{"t":2009.394,"y":4.3,"txt":"Calibration Period"},{"t":2011.99,"y":4.3,"txt":"Validation Period"},{"t":2008.18,"y":3.65,"txt":"(a)"},{"t":2010.5,"y":0.365,"txt":"(b)"}],
 "arr": [{"t":2008.0,"t2":2008.65},{"t":2010.316,"t2":2010.965},{"t":2011.01,"t2":2011.29},{"t":2012.716,"t2":2013.01}],
 "heads": [{"t":2008.03,"d":"L"},{"t":2010.955,"d":"R"},{"t":2011.04,"d":"L"},{"t":2012.99,"d":"R"}],
 "blab": [{"t":2008.18,"y":40.8,"txt":"(b)"}]
},
"spacing": 0,
"bounds": "flush",
"vconcat": [
 {
  "width": 721, "height": 255,
  "resolve": {"scale": {"y": "independent"}, "axis": {"x": "independent"}},
  "layer": [
   {"data": {"name": "swcO"}, "mark": {"type": "line", "strokeWidth": 5, "strokeJoin": "round", "clip": true},
    "encoding": {
     "x": {"field": "t", "type": "quantitative", "scale": {"domain": [2008, 2013], "nice": false, "zero": false}, "axis": {"orient": "bottom", "values": [2009, 2010, 2011, 2012], "labels": false, "tickSize": -7, "title": null}},
     "y": {"field": "v", "type": "quantitative", "scale": {"domain": [0.004, 0.8], "reverse": true, "nice": false, "zero": false}, "axis": {"orient": "left", "values": [0.004, 0.1, 0.2, 0.3], "labelExpr": "datum.value < 0.05 ? '0' : format(datum.value, '.1f')", "title": "Lit (g m⁻² day⁻¹) SWC (m³m⁻³)", "titlePadding": 12}},
     "detail": {"field": "g"},
     "color": {"datum": "SWC OBS", "scale": {"domain": ["SWC OBS", "SWC SIM", "LAI OBS", "LAI SIM", "Litterfall"], "range": ["#1446EE", "#FF4411", "#117711", "#33EE33", "#666666"]},
      "legend": {"orient": "none", "legendX": 560, "legendY": 66, "title": null, "symbolSize": 625, "rowPadding": 6,
       "encode": {"symbols": {"update": {
        "shape": {"signal": "datum.value === 'Litterfall' ? 'M-1.3,0H-0.3M0.3,0H1.3M-0.3,0A0.3,0.3 0 1,1 0.3,0A0.3,0.3 0 1,1 -0.3,0' : 'M-1.3,0H1.3'"},
        "strokeDash": {"signal": "datum.value === 'SWC SIM' ? [6,4] : datum.value === 'LAI SIM' ? [6,5] : [1,0]"},
        "strokeWidth": {"signal": "datum.value === 'SWC OBS' || datum.value === 'LAI SIM' ? 5 : datum.value === 'LAI OBS' ? 3 : 2"},
        "fill": {"value": "transparent"}}}}}}
    }},
   {"data": {"name": "swcS"}, "mark": {"type": "line", "strokeWidth": 2, "strokeDash": [6, 4], "clip": true},
    "encoding": {"x": {"field": "t", "type": "quantitative", "axis": null}, "y": {"field": "v", "type": "quantitative", "scale": {"domain": [0.004, 0.8], "reverse": true, "nice": false, "zero": false}, "axis": null}, "color": {"datum": "SWC SIM"}}},
   {"data": {"name": "laiO"}, "mark": {"type": "line", "strokeWidth": 3},
    "encoding": {"x": {"field": "t", "type": "quantitative", "axis": null},
     "y": {"field": "v", "type": "quantitative", "scale": {"domain": [0, 4.05], "nice": false, "zero": false}, "axis": {"orient": "right", "values": [0, 1, 2, 3], "title": "LAI (–)", "titleAngle": -90, "titleBaseline": "top", "titlePadding": 18}},
     "color": {"datum": "LAI OBS"}}},
   {"data": {"name": "laiS"}, "mark": {"type": "line", "strokeWidth": 5, "strokeDash": [6, 5]},
    "encoding": {"x": {"field": "t", "type": "quantitative", "axis": null}, "y": {"field": "v", "type": "quantitative", "scale": {"domain": [0, 4.05], "nice": false, "zero": false}, "axis": null}, "color": {"datum": "LAI SIM"}}},
   {"data": {"name": "arr"}, "mark": {"type": "rule", "strokeWidth": 2, "color": "black"},
    "encoding": {"x": {"field": "t", "type": "quantitative", "axis": null}, "x2": {"field": "t2"}, "y": {"datum": 4.27, "type": "quantitative", "scale": {"domain": [0, 4.05], "nice": false, "zero": false}, "axis": null}}},
   {"data": {"name": "heads"}, "mark": {"type": "point", "filled": true, "size": 70, "color": "black", "opacity": 1},
    "encoding": {"x": {"field": "t", "type": "quantitative", "axis": null}, "y": {"datum": 4.27, "type": "quantitative", "scale": {"domain": [0, 4.05], "nice": false, "zero": false}, "axis": null},
     "shape": {"field": "d", "type": "nominal", "scale": {"domain": ["L", "R"], "range": ["triangle-left", "triangle-right"]}, "legend": null}}},
   {"data": {"name": "lab"}, "mark": {"type": "text", "fontSize": 21, "font": "Liberation Sans", "baseline": "middle", "align": "center", "color": "black"},
    "encoding": {"x": {"field": "t", "type": "quantitative", "axis": {"orient": "top", "values": [2009, 2010, 2011, 2012], "labels": false, "tickSize": 6, "title": null}},
     "y": {"field": "y", "type": "quantitative", "scale": {"domain": [0, 4.05], "nice": false, "zero": false}, "axis": null}, "text": {"field": "txt"}}},
   {"data": {"name": "lit"}, "mark": {"type": "line", "strokeWidth": 2},
    "encoding": {"x": {"field": "t", "type": "quantitative", "axis": null},
     "y": {"field": "v", "type": "quantitative", "scale": {"domain": [0, 14.4], "nice": false, "zero": false}, "axis": {"orient": "left", "values": [0, 2, 4, 6], "labelExpr": "datum.value == 0 ? '0' : format(datum.value, '.1f')", "title": null}},
     "color": {"datum": "Litterfall"}}},
   {"data": {"name": "lit"}, "mark": {"type": "point", "shape": "circle", "filled": false, "size": 55, "strokeWidth": 1.6, "color": "#666666", "opacity": 1},
    "encoding": {"x": {"field": "t", "type": "quantitative", "axis": null}, "y": {"field": "v", "type": "quantitative", "scale": {"domain": [0, 14.4], "nice": false, "zero": false}, "axis": null}}}
  ]
 },
 {
  "width": 721, "height": 227,
  "resolve": {"scale": {"y": "independent"}, "axis": {"x": "independent"}},
  "layer": [
   {"data": {"name": "ts"}, "mark": {"type": "line", "strokeWidth": 3, "strokeDash": [5, 4]},
    "encoding": {
     "x": {"field": "t", "type": "quantitative", "scale": {"domain": [2008, 2013], "nice": false, "zero": false}, "axis": {"orient": "bottom", "values": [2008, 2009, 2010, 2011, 2012, 2013], "format": "d", "title": "Year", "tickSize": 6, "titlePadding": 6}},
     "y": {"field": "v", "type": "quantitative", "scale": {"domain": [0, 45.4], "nice": false, "zero": false}, "axis": {"orient": "right", "values": [0, 10, 20, 30, 40], "title": "Tₛₒᵢₗ (°C)", "titleAngle": -90, "titleBaseline": "top", "titlePadding": 17}},
     "color": {"datum": "Tsoil SIM", "scale": {"domain": ["Tsoil SIM", "Rh SIM"], "range": ["#30F0F0", "black"]},
      "legend": {"orient": "none", "legendX": 560, "legendY": 18, "title": null, "symbolSize": 625, "rowPadding": 10,
       "encode": {"symbols": {"update": {
        "shape": {"signal": "datum.value === 'Rh SIM' ? 'M-1.3,0H1.3M-0.32,0.26L0,-0.32L0.32,0.26Z' : 'M-1.3,0H1.3'"},
        "strokeDash": {"signal": "datum.value === 'Rh SIM' ? [1,0] : [5,4]"},
        "strokeWidth": {"signal": "datum.value === 'Rh SIM' ? 2 : 3"},
        "fill": {"signal": "datum.value === 'Rh SIM' ? 'black' : 'transparent'"}}}}}}
    }},
   {"data": {"name": "blab"}, "mark": {"type": "text", "fontSize": 21, "font": "Liberation Sans", "baseline": "middle", "align": "center", "color": "black"},
    "encoding": {"x": {"field": "t", "type": "quantitative", "axis": null}, "y": {"field": "y", "type": "quantitative", "scale": {"domain": [0, 45.4], "nice": false, "zero": false}, "axis": null}, "text": {"field": "txt"}}},
   {"data": {"name": "rh"}, "mark": {"type": "line", "strokeWidth": 1.5},
    "encoding": {"x": {"field": "t", "type": "quantitative", "axis": null},
     "y": {"field": "v", "type": "quantitative", "scale": {"domain": [0, 10.7], "nice": false, "zero": false}, "axis": {"orient": "left", "values": [0, 2, 4, 6], "labelExpr": "datum.value == 0 ? '0' : format(datum.value, '.1f')", "title": "Rₕ ( g C m⁻² day⁻¹)", "titlePadding": 12, "titleY": 156}},
     "color": {"datum": "Rh SIM"}}},
   {"data": {"name": "rh"}, "mark": {"type": "point", "shape": "triangle-up", "filled": true, "size": 80, "color": "black", "opacity": 1},
    "encoding": {"x": {"field": "t", "type": "quantitative", "axis": null}, "y": {"field": "v", "type": "quantitative", "scale": {"domain": [0, 10.7], "nice": false, "zero": false}, "axis": null}}}
  ]
 }
]
}
